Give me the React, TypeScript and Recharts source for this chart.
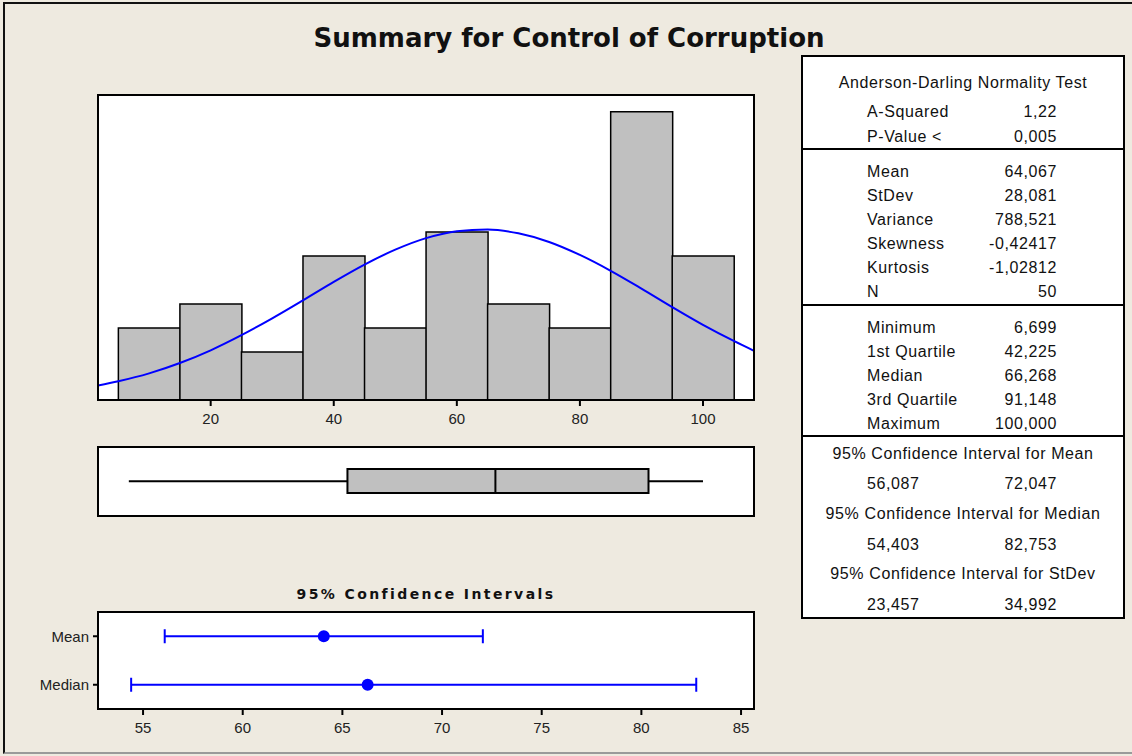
import React from 'react';
import {
  ComposedChart,
  Bar,
  XAxis,
  YAxis,
  CartesianGrid,
  LineChart,
  Line,
  ReferenceArea,
  ReferenceLine,
  ScatterChart,
  Scatter,
  ErrorBar,
} from 'recharts';

// ---------- data ----------
const binCenters = [10, 20, 30, 40, 50, 60, 70, 80, 90, 100];
const binCounts = [3, 4, 2, 6, 3, 7, 4, 3, 12, 6];
const histTicks = [20, 40, 60, 80, 100];

// fitted normal curve (in count units)
const curveX = [1.69, 5, 10, 15, 20, 25, 30, 35, 40, 45, 50, 55, 60, 65, 70, 75, 80, 85, 90, 95, 100, 105, 108.29];
const curveY = [0.6, 0.78, 1.11, 1.54, 2.07, 2.7, 3.4, 4.15, 4.92, 5.64, 6.26, 6.74, 7.03, 7.1, 6.94, 6.58, 6.04, 5.38, 4.64, 3.87, 3.13, 2.46, 2.05];

// box plot: min, Q1, median, Q3, max
const boxValues = [6.699, 42.225, 66.268, 91.148, 100];

const ciRows = ['Mean', 'Median'];
const ciEstimate = [64.067, 66.268];
const ciLower = [56.087, 54.403];
const ciUpper = [72.047, 82.753];
const ciTicks = [55, 60, 65, 70, 75, 80, 85];

const adLabels = ['A-Squared', 'P-Value <'];
const adValues = ['1,22', '0,005'];
const descLabels = ['Mean', 'StDev', 'Variance', 'Skewness', 'Kurtosis', 'N'];
const descValues = ['64,067', '28,081', '788,521', '-0,42417', '-1,02812', '50'];
const quantLabels = ['Minimum', '1st Quartile', 'Median', '3rd Quartile', 'Maximum'];
const quantValues = ['6,699', '42,225', '66,268', '91,148', '100,000'];
const ciHeaders = [
  '95% Confidence Interval for Mean',
  '95% Confidence Interval for Median',
  '95% Confidence Interval for StDev',
];
const ciLowText = ['56,087', '54,403', '23,457'];
const ciHighText = ['72,047', '82,753', '34,992'];

// ---------- styling ----------
const BG = '#EEEAE0';
const FONT = '"Liberation Sans", Arial, sans-serif';
const BOLD_FONT = '"DejaVu Sans", Verdana, sans-serif';
const HIST_DOMAIN: [number, number] = [1.69, 108.29];
const HIST_Y: [number, number] = [0, 12.7];
const CI_DOMAIN: [number, number] = [52.74, 85.65];
const frameLine = { stroke: '#000', strokeWidth: 2 };
const tickStyle = { fill: '#222', fontSize: 15, fontFamily: FONT };

const histData = binCenters.map((x, i) => ({ x, count: binCounts[i] }));
const curveData = curveX.map((x, i) => ({ x, y: curveY[i] }));
const ciData = ciRows.map((name, i) => ({
  name,
  x: ciEstimate[i],
  y: ciRows.length - i,
  err: [ciEstimate[i] - ciLower[i], ciUpper[i] - ciEstimate[i]],
}));

type TProps = {
  x: number;
  y: number;
  anchor?: 'start' | 'middle' | 'end';
  style?: React.CSSProperties;
  children: React.ReactNode;
};
const T = ({ x, y, anchor = 'start', style, children }: TProps) => {
  const tx = anchor === 'start' ? '0' : anchor === 'middle' ? '-50%' : '-100%';
  return (
    <div
      style={{
        position: 'absolute',
        left: x,
        top: y,
        transform: `translate(${tx}, -50%)`,
        whiteSpace: 'nowrap',
        lineHeight: 1,
        fontFamily: FONT,
        fontSize: 16,
        letterSpacing: 0.6,
        color: '#111',
        ...style,
      }}
    >
      {children}
    </div>
  );
};

// plot frame (border around a plot area)
const Frame = ({ l, t, r, b }: { l: number; t: number; r: number; b: number }) => (
  <div
    style={{
      position: 'absolute',
      left: l - 1,
      top: t - 1,
      width: r - l + 2,
      height: b - t + 2,
      boxSizing: 'border-box',
      border: '2px solid #000',
      pointerEvents: 'none',
    }}
  />
);

const Histogram = () => (
  <>
    <div style={{ position: 'absolute', left: 0, top: 0 }}>
      <ComposedChart
        width={1132}
        height={440}
        data={histData}
        margin={{ top: 95, right: 378, bottom: 10, left: 98 }}
        barCategoryGap={0}
        barGap={0}
      >
        <CartesianGrid fill="#fff" horizontal={false} vertical={false} stroke="none" />
        <XAxis
          dataKey="x"
          type="number"
          domain={HIST_DOMAIN}
          allowDataOverflow
          ticks={histTicks}
          interval={0}
          height={30}
          axisLine={frameLine}
          tickLine={frameLine}
          tickSize={6}
          tickMargin={7}
          tick={tickStyle}
        />
        <YAxis type="number" domain={HIST_Y} allowDataOverflow hide />
        <Bar dataKey="count" fill="#C0C0C0" stroke="#000" strokeWidth={1.5} isAnimationActive={false} />
      </ComposedChart>
    </div>
    <div style={{ position: 'absolute', left: 0, top: 0 }}>
      <LineChart width={1132} height={440} data={curveData} margin={{ top: 95, right: 378, bottom: 40, left: 98 }}>
        <XAxis dataKey="x" type="number" domain={HIST_DOMAIN} allowDataOverflow hide />
        <YAxis type="number" domain={HIST_Y} allowDataOverflow hide />
        <Line type="monotone" dataKey="y" stroke="#0000FF" strokeWidth={2} dot={false} isAnimationActive={false} />
      </LineChart>
    </div>
    <Frame l={98} t={95} r={754} b={400} />
  </>
);

const BoxPlot = () => {
  const [mn, q1, med, q3, mx] = boxValues;
  return (
    <>
      <div style={{ position: 'absolute', left: 0, top: 440 }}>
        <ComposedChart width={1132} height={80} data={histData} margin={{ top: 7, right: 378, bottom: 4, left: 98 }}>
          <CartesianGrid fill="#fff" horizontal={false} vertical={false} stroke="none" />
          <XAxis dataKey="x" type="number" domain={HIST_DOMAIN} allowDataOverflow hide />
          <YAxis type="number" domain={[0, 1]} allowDataOverflow hide />
          <ReferenceLine segment={[{ x: mn, y: 0.505 }, { x: q1, y: 0.505 }]} stroke="#000" strokeWidth={2} />
          <ReferenceLine segment={[{ x: q3, y: 0.505 }, { x: mx, y: 0.505 }]} stroke="#000" strokeWidth={2} />
          <ReferenceArea x1={q1} x2={q3} y1={0.333} y2={0.68} fill="#C0C0C0" fillOpacity={1} stroke="#000" strokeWidth={2} />
          <ReferenceLine segment={[{ x: med, y: 0.333 }, { x: med, y: 0.68 }]} stroke="#000" strokeWidth={2} />
        </ComposedChart>
      </div>
      <Frame l={98} t={447} r={754} b={516} />
    </>
  );
};

const CIPlot = () => (
  <>
    <div style={{ position: 'absolute', left: 0, top: 560 }}>
      <ScatterChart width={1132} height={196} margin={{ top: 52, right: 378, bottom: 17, left: 8 }}>
        <CartesianGrid fill="#fff" horizontal={false} vertical={false} stroke="none" />
        <XAxis
          dataKey="x"
          type="number"
          domain={CI_DOMAIN}
          allowDataOverflow
          ticks={ciTicks}
          interval={0}
          height={30}
          axisLine={frameLine}
          tickLine={frameLine}
          tickSize={6}
          tickMargin={7}
          tick={tickStyle}
        />
        <YAxis
          dataKey="y"
          type="number"
          domain={[0.5, 2.5]}
          allowDataOverflow
          ticks={ciRows.map((_, i) => ciRows.length - i)}
          interval={0}
          tickFormatter={(v: number) => ciRows[ciRows.length - v] ?? ''}
          width={90}
          axisLine={frameLine}
          tickLine={frameLine}
          tickSize={5}
          tickMargin={4}
          tick={tickStyle}
        />
        <Scatter
          data={ciData}
          fill="#0000FF"
          isAnimationActive={false}
          shape={(p: any) => <circle cx={p.cx} cy={p.cy} r={6} fill="#0000FF" />}
        >
          <ErrorBar dataKey="err" direction="x" width={7} stroke="#0000FF" strokeWidth={2} isAnimationActive={false} />
        </Scatter>
      </ScatterChart>
    </div>
    <Frame l={98} t={612} r={754} b={709} />
  </>
);

const Table = () => {
  const LX = 867;
  const VX = 1057;
  const CX = 963;
  const hline = (y: number) => (
    <div style={{ position: 'absolute', left: 801, top: y - 1, width: 323, height: 2, background: '#000' }} />
  );
  return (
    <>
      <div
        style={{
          position: 'absolute',
          left: 801,
          top: 55,
          width: 324,
          height: 564,
          boxSizing: 'border-box',
          border: '2px solid #000',
          background: '#fff',
        }}
      />
      {hline(149)}
      {hline(305)}
      {hline(436)}
      <T x={CX} y={83} anchor="middle">Anderson-Darling Normality Test</T>
      {adLabels.map((l, i) => (
        <React.Fragment key={l}>
          <T x={LX} y={111.7 + i * 25}>{l}</T>
          <T x={VX} y={111.7 + i * 25} anchor="end">{adValues[i]}</T>
        </React.Fragment>
      ))}
      {descLabels.map((l, i) => (
        <React.Fragment key={l}>
          <T x={LX} y={172.3 + i * 23.9}>{l}</T>
          <T x={VX} y={172.3 + i * 23.9} anchor="end">{descValues[i]}</T>
        </React.Fragment>
      ))}
      {quantLabels.map((l, i) => (
        <React.Fragment key={l}>
          <T x={LX} y={328.3 + i * 23.9}>{l}</T>
          <T x={VX} y={328.3 + i * 23.9} anchor="end">{quantValues[i]}</T>
        </React.Fragment>
      ))}
      {ciHeaders.map((h, i) => (
        <React.Fragment key={h}>
          <T x={CX} y={454 + i * 60} anchor="middle">{h}</T>
          <T x={LX} y={484 + i * 60.5}>{ciLowText[i]}</T>
          <T x={VX} y={484 + i * 60.5} anchor="end">{ciHighText[i]}</T>
        </React.Fragment>
      ))}
    </>
  );
};

export default function App() {
  return (
    <div
      style={{
        position: 'absolute',
        left: 0,
        top: 0,
        width: 1132,
        height: 756,
        background: BG,
        overflow: 'hidden',
      }}
    >
      <div
        style={{
          position: 'absolute',
          left: 3,
          top: 2,
          width: 1140,
          height: 752,
          boxSizing: 'border-box',
          borderLeft: '2px solid #111',
          borderTop: '2px solid #111',
          borderBottom: '2px solid #9a9a9a',
        }}
      />
      <T x={569} y={38} anchor="middle" style={{ fontFamily: BOLD_FONT, fontWeight: 'bold', fontSize: 26, letterSpacing: 0 }}>
        Summary for Control of Corruption
      </T>
      <Histogram />
      <BoxPlot />
      <T x={426} y={594} anchor="middle" style={{ fontFamily: BOLD_FONT, fontWeight: 'bold', fontSize: 14, letterSpacing: 2.4 }}>
        95% Confidence Intervals
      </T>
      <CIPlot />
      <Table />
    </div>
  );
}
